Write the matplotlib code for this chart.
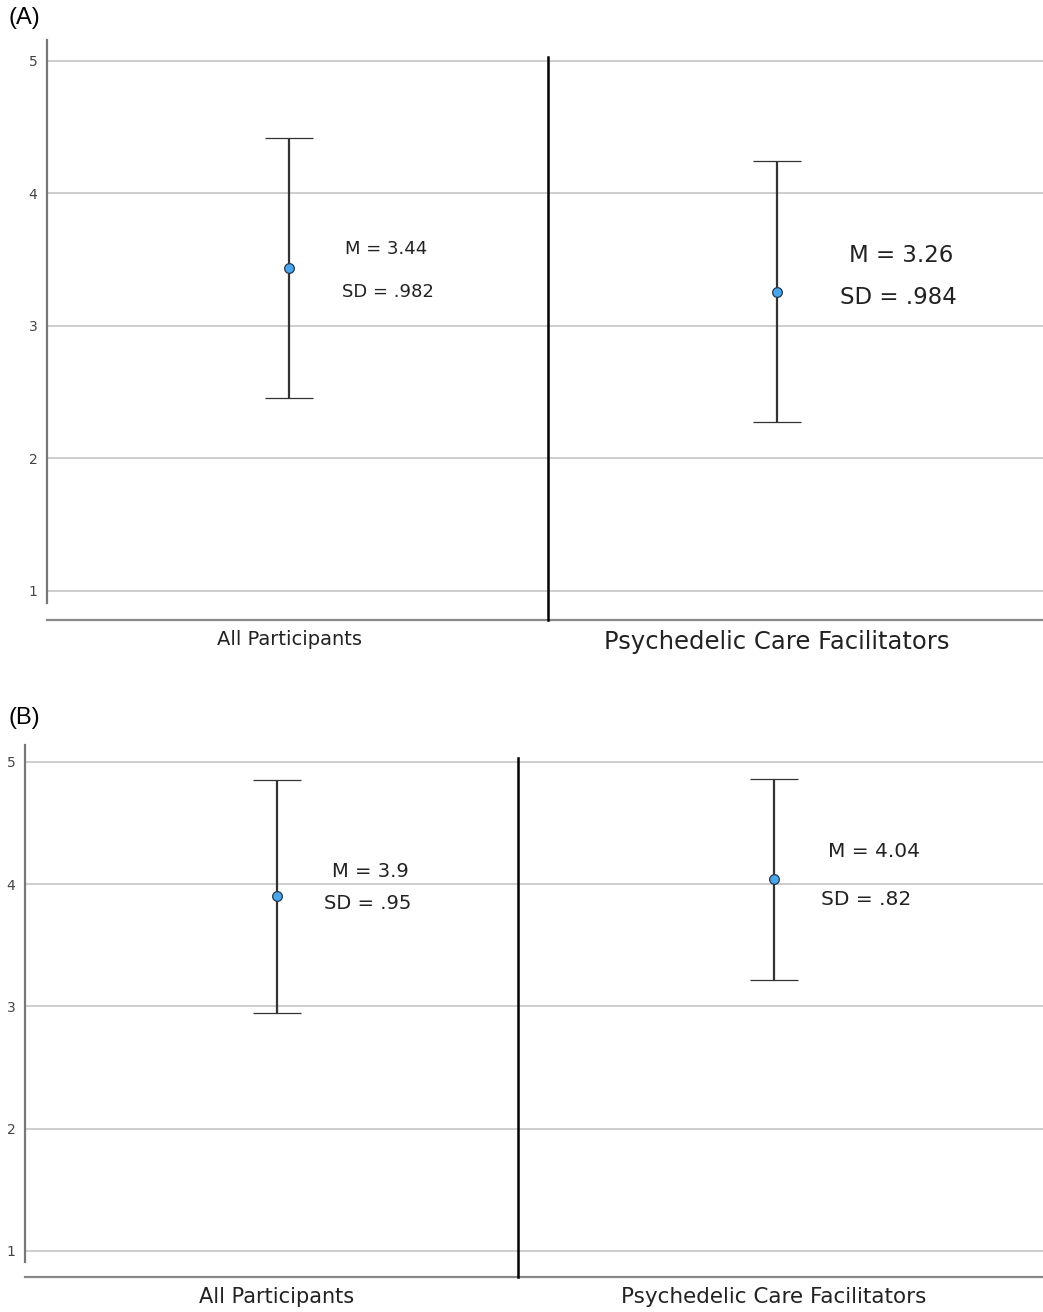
import matplotlib.pyplot as plt

# Data
groups = ['All Participants', 'Psychedelic Care Facilitators']
means_a = [3.44, 3.26]
sds_a = [0.982, 0.984]
means_b = [3.90, 4.04]
sds_b = [0.95, 0.82]
m_text_a = ['M = 3.44', 'M = 3.26']
sd_text_a = ['SD = .982', 'SD = .984']
m_text_b = ['M = 3.9', 'M = 4.04']
sd_text_b = ['SD = .95', 'SD = .82']
yticks = [1, 2, 3, 4, 5]

W, H = 1043, 1312
fig = plt.figure(figsize=(W / 100, H / 100), dpi=100)


def draw_panel(rect_px, xlim, ylim, spine_lo, divider, means, sds,
               m_txt, sd_txt, m_off, sd_off, txt_sizes, lab_sizes):
    left, top, right, bottom = rect_px
    ax = fig.add_axes([left / W, (H - bottom) / H, (right - left) / W, (bottom - top) / H])
    ax.set_xlim(*xlim)
    ax.set_ylim(*ylim)
    x = list(range(len(means)))

    # grid
    ax.set_yticks(yticks)
    ax.grid(axis='y', color='#c9c9c9', linewidth=1.3)
    ax.set_axisbelow(True)

    # spines
    ax.spines['top'].set_visible(False)
    ax.spines['right'].set_visible(False)
    ax.spines['left'].set_color('#777777')
    ax.spines['left'].set_linewidth(1.6)
    ax.spines['left'].set_bounds(spine_lo, ylim[1])
    ax.spines['bottom'].set_color('#888888')
    ax.spines['bottom'].set_linewidth(1.6)

    # divider between the two groups
    ax.plot([divider, divider], [ylim[0], 5.03], color='black', linewidth=1.8,
            clip_on=False, zorder=3)

    # error bars (mean +/- 1 SD)
    ax.errorbar(x, means, yerr=sds, fmt='o', color='#333333', ecolor='#333333',
                elinewidth=1.6, capsize=17, capthick=1.7, markersize=7,
                markerfacecolor='#4aa6ea', markeredgecolor='#24384f',
                markeredgewidth=0.9, zorder=4)

    for i in x:
        ax.annotate(m_txt[i], (x[i], means[i]), xytext=m_off[i], textcoords='offset pixels',
                    ha='center', va='center', fontsize=txt_sizes[i], color='#222222')
        ax.annotate(sd_txt[i], (x[i], means[i]), xytext=sd_off[i], textcoords='offset pixels',
                    ha='center', va='center', fontsize=txt_sizes[i], color='#222222')

    ax.set_xticks(x)
    ax.set_xticklabels(groups, color='#222222')
    for lab, s in zip(ax.get_xticklabels(), lab_sizes):
        lab.set_fontsize(s)
    ax.tick_params(axis='x', length=0, pad=7)
    ax.tick_params(axis='y', length=0, pad=7, labelsize=10, labelcolor='#444444')
    return ax


# Panel A
draw_panel((47, 40, 1043, 620), (-0.496, 1.545), (0.781, 5.158), 0.909, 0.531,
           means_a, sds_a, m_text_a, sd_text_a,
           m_off=[(97, 19), (124, 36)], sd_off=[(99, -24), (121, -6)],
           txt_sizes=[13, 16.5], lab_sizes=[14, 17.5])

# Panel B
draw_panel((25, 745, 1043, 1277), (-0.507, 1.541), (0.787, 5.139), 0.91, 0.485,
           means_b, sds_b, m_text_b, sd_text_b,
           m_off=[(93, 25), (100, 28)], sd_off=[(91, -7), (92, -20)],
           txt_sizes=[14, 14.5], lab_sizes=[15, 15.5])

fig.text(8 / W, 1 - 7 / H, '(A)', fontsize=17, family='Liberation Sans', ha='left', va='top')
fig.text(8 / W, 1 - 707 / H, '(B)', fontsize=17, family='Liberation Sans', ha='left', va='top')

plt.savefig('out.png', dpi=100)
